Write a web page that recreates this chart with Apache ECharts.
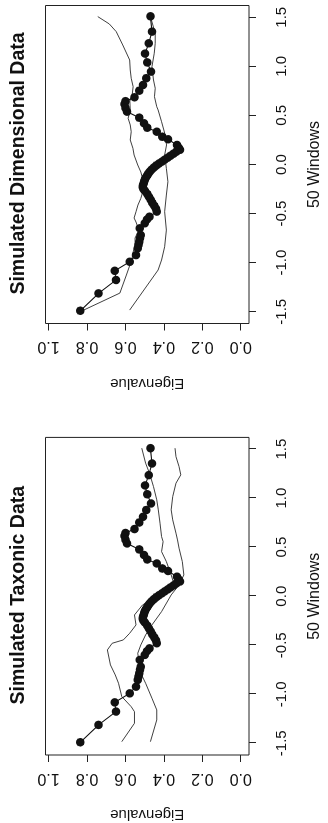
<!DOCTYPE html>
<html>
<head>
<meta charset="utf-8">
<script src="https://cdn.jsdelivr.net/npm/echarts@6/dist/echarts.min.js"></script>
<style>
  html, body { margin: 0; padding: 0; background: #fff; overflow: hidden; width: 328px; height: 823px; }
  #chart { position: absolute; left: 0; top: 0; width: 823px; height: 328px;
           transform-origin: 0 0; transform: translate(0px, 823px) rotate(-90deg); }
</style>
</head>
<body>
<div id="chart"></div>
<script>
// ---- data (window position, eigenvalue) ----
const windowTicks = [-1.5, -1.0, -0.5, 0.0, 0.5, 1.0, 1.5];
const eigenTicks = [0.0, 0.2, 0.4, 0.6, 0.8, 1.0];
const panelTitles = ["Simulated Taxonic Data", "Simulated Dimensional Data"];
const xAxisTitle = "50 Windows";
const yAxisTitle = "Eigenvalue";

// research data curve (dots), same in both panels
const researchCurve = [
  [1.51, 0.470], [1.354, 0.462], [1.235, 0.479], [1.13, 0.498], [1.04, 0.487],
  [0.946, 0.467], [0.879, 0.492], [0.81, 0.508], [0.752, 0.528], [0.685, 0.553],
  [0.645, 0.600], [0.615, 0.605], [0.575, 0.600], [0.538, 0.592], [0.477, 0.528],
  [0.42, 0.503], [0.375, 0.487], [0.334, 0.437], [0.283, 0.409], [0.257, 0.379],
  [0.199, 0.332], [0.17, 0.322], [0.15, 0.316], [0.13, 0.335], [0.11, 0.35],
  [0.09, 0.365], [0.07, 0.38], [0.05, 0.395], [0.03, 0.41], [0.01, 0.425],
  [-0.01, 0.44], [-0.03, 0.452], [-0.05, 0.463], [-0.07, 0.472], [-0.09, 0.48],
  [-0.11, 0.487], [-0.13, 0.493], [-0.15, 0.498], [-0.17, 0.502], [-0.19, 0.505],
  [-0.21, 0.508], [-0.23, 0.51], [-0.25, 0.506], [-0.27, 0.498], [-0.30, 0.487],
  [-0.33, 0.477], [-0.36, 0.468], [-0.39, 0.46], [-0.42, 0.45], [-0.45, 0.441],
  [-0.48, 0.437], [-0.532, 0.475], [-0.56, 0.488], [-0.599, 0.5], [-0.65, 0.525],
  [-0.719, 0.52], [-0.75, 0.524], [-0.787, 0.528], [-0.82, 0.532], [-0.854, 0.536],
  [-0.923, 0.545], [-0.991, 0.578], [-1.083, 0.656], [-1.177, 0.649],
  [-1.313, 0.740], [-1.49, 0.835]
];

// simulated taxonic comparison curves
const taxonicUpper = [
  [1.510, 0.515], [1.357, 0.495], [1.255, 0.475], [1.118, 0.454], [0.983, 0.437],
  [0.881, 0.429], [0.745, 0.420], [0.608, 0.412], [0.557, 0.404], [0.455, 0.412],
  [0.353, 0.387], [0.217, 0.362], [0.115, 0.346], [0.044, 0.396], [-0.017, 0.445],
  [-0.089, 0.511], [-0.191, 0.553], [-0.293, 0.545], [-0.378, 0.578], [-0.446, 0.611],
  [-0.480, 0.669], [-0.548, 0.694], [-0.701, 0.678], [-0.803, 0.653], [-0.888, 0.636],
  [-1.024, 0.619], [-1.127, 0.570], [-1.178, 0.553], [-1.296, 0.553], [-1.484, 0.619]
];
const taxonicLower = [
  [1.510, 0.342], [1.424, 0.337], [1.322, 0.321], [1.238, 0.312], [1.153, 0.337],
  [1.016, 0.354], [0.881, 0.362], [0.779, 0.354], [0.643, 0.337], [0.574, 0.329],
  [0.490, 0.321], [0.353, 0.304], [0.217, 0.296], [0.115, 0.321], [0.013, 0.362],
  [-0.157, 0.412], [-0.293, 0.462], [-0.395, 0.495], [-0.497, 0.520], [-0.582, 0.536],
  [-0.786, 0.520], [-0.888, 0.495], [-1.041, 0.462], [-1.160, 0.437], [-1.262, 0.437],
  [-1.484, 0.470]
];

// simulated dimensional comparison curves
const dimensionalUpper = [
  [1.507, 0.744], [1.432, 0.684], [1.354, 0.648], [1.218, 0.614], [1.065, 0.578],
  [0.963, 0.575], [0.879, 0.570], [0.793, 0.560], [0.708, 0.565], [0.647, 0.577],
  [0.556, 0.575], [0.471, 0.586], [0.403, 0.575], [0.334, 0.570], [0.250, 0.575],
  [0.165, 0.561], [0.097, 0.555], [-0.005, 0.536], [-0.076, 0.520], [-0.141, 0.511],
  [-0.226, 0.499], [-0.280, 0.510], [-0.345, 0.520], [-0.413, 0.535], [-0.481, 0.545],
  [-0.545, 0.555], [-0.586, 0.545], [-0.668, 0.530], [-0.749, 0.550], [-0.821, 0.550],
  [-0.892, 0.560], [-0.953, 0.565], [-1.014, 0.575], [-1.126, 0.595], [-1.310, 0.629],
  [-1.493, 0.828]
];
const dimensionalLower = [
  [1.507, 0.470], [1.337, 0.445], [1.235, 0.445], [1.134, 0.450], [0.997, 0.462],
  [0.861, 0.454], [0.777, 0.445], [0.691, 0.449], [0.589, 0.437], [0.556, 0.430],
  [0.436, 0.412], [0.321, 0.396], [0.199, 0.386], [0.097, 0.396], [-0.039, 0.387],
  [-0.175, 0.379], [-0.311, 0.387], [-0.481, 0.396], [-0.668, 0.387], [-0.838, 0.396],
  [-0.973, 0.412], [-1.075, 0.430], [-1.483, 0.578]
];

// ---- chart ----
const FONT = '"Liberation Sans", Arial, Helvetica, sans-serif';
const chart = echarts.init(document.getElementById('chart'), null, { width: 823, height: 328, renderer: 'canvas' });

const grids = [
  { left: 68, top: 45.5, width: 317.6, height: 212.8 },
  { left: 499.5, top: 45.5, width: 318, height: 212.8 }
];

function xAxisFor(i) {
  return {
    gridIndex: i, type: 'value', min: -1.62, max: 1.62,
    axisLine: { show: false, onZero: false }, splitLine: { show: false },
    axisTick: { show: true, customValues: windowTicks, length: 7, lineStyle: { color: '#222', width: 1 } },
    axisLabel: { customValues: windowTicks, formatter: v => v.toFixed(1), margin: 25,
                 color: '#111', fontFamily: FONT, fontSize: 15 },
    name: xAxisTitle, nameLocation: 'middle', nameGap: 58,
    nameTextStyle: { color: '#111', fontFamily: FONT, fontSize: 16 }
  };
}
function yAxisFor(i) {
  return {
    gridIndex: i, type: 'value', min: -0.043, max: 1.016,
    axisLine: { show: false, onZero: false }, splitLine: { show: false },
    axisTick: { show: true, customValues: eigenTicks, length: 7, lineStyle: { color: '#222', width: 1 } },
    axisLabel: { customValues: eigenTicks, formatter: v => v.toFixed(1), margin: 15, rotate: 90,
                 color: '#111', fontFamily: FONT, fontSize: 16 },
    name: yAxisTitle, nameLocation: 'middle', nameGap: 52, nameRotate: 90,
    nameTextStyle: { color: '#111', fontFamily: FONT, fontSize: 15 }
  };
}

const curves = [[taxonicUpper, taxonicLower], [dimensionalUpper, dimensionalLower]];
const series = [];
[0, 1].forEach(i => {
  curves[i].forEach(c => series.push({
    type: 'line', xAxisIndex: i, yAxisIndex: i, data: c, symbol: 'none', silent: true,
    lineStyle: { color: '#2a2a2a', width: 0.9 }, animation: false
  }));
  series.push({
    type: 'line', xAxisIndex: i, yAxisIndex: i, data: researchCurve,
    symbol: 'circle', symbolSize: 8.5, showAllSymbol: true, silent: true,
    itemStyle: { color: '#111' }, lineStyle: { color: '#111', width: 1.1 }, animation: false
  });
});

chart.setOption({
  backgroundColor: '#fff',
  animation: false,
  title: panelTitles.map((t, i) => ({
    text: t, left: grids[i].left + grids[i].width / 2 - 4, textAlign: 'center', top: 4,
    textStyle: { fontFamily: FONT, fontWeight: 'bold', fontSize: 19.5, color: '#111' }
  })),
  grid: grids.map(g => Object.assign({ show: true, borderColor: '#222', borderWidth: 1, containLabel: false }, g)),
  xAxis: [xAxisFor(0), xAxisFor(1)],
  yAxis: [yAxisFor(0), yAxisFor(1)],
  series: series
});
</script>
</body>
</html>
